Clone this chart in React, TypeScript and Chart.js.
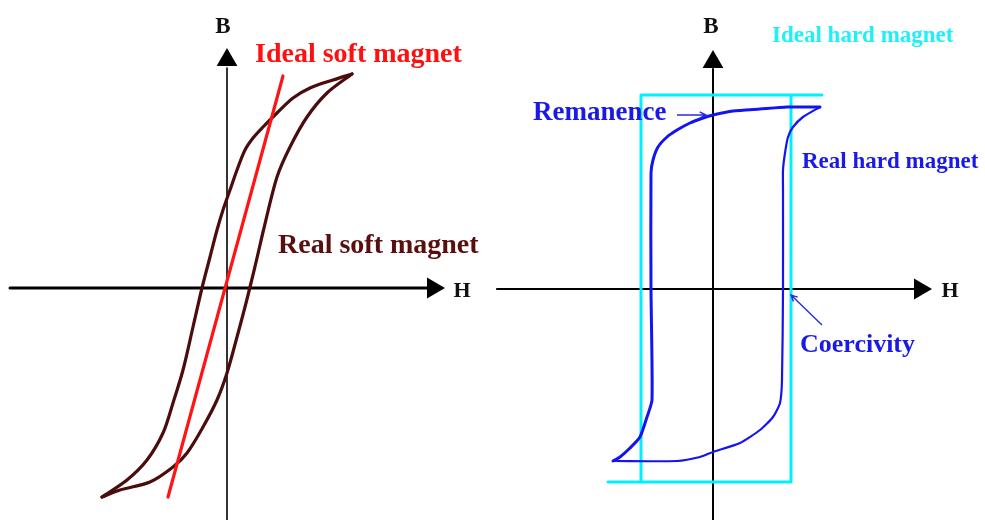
import React, { useEffect, useRef } from "react";
import { Chart, registerables } from "chart.js";

Chart.register(...registerables);

// ---------- DATA (H, B in arbitrary diagram units) ----------
// Left panel: real soft magnet loop
const softDescH = [1.25, 1.06, 0.83, 0.66, 0.5, 0.36, 0.26, 0.18, 0.1, 0.03, -0.04, -0.1, -0.17, -0.25, -0.34, -0.44, -0.54, -0.64, -0.8, -1.0, -1.25];
const softDescB = [2.14, 2.08, 2.0, 1.9, 1.75, 1.61, 1.5, 1.38, 1.18, 0.98, 0.78, 0.58, 0.31, 0.0, -0.39, -0.82, -1.15, -1.45, -1.72, -1.92, -2.09];
const softAscH = [-1.25, -1.07, -0.77, -0.54, -0.4, -0.24, -0.1, 0.0, 0.1, 0.18, 0.24, 0.3, 0.37, 0.5, 0.63, 0.8, 1.0, 1.25];
const softAscB = [-2.09, -2.02, -1.94, -1.79, -1.65, -1.39, -1.12, -0.85, -0.49, -0.19, 0.05, 0.3, 0.6, 1.11, 1.41, 1.71, 1.95, 2.14];
// Left panel: ideal soft magnet (straight line)
const idealSoftH = [-0.59, 0.56];
const idealSoftB = [-2.09, 2.12];

// Right panel: real hard magnet loop
const hardDescH = [1.07, 0.74, 0.47, 0.2, 0.0, -0.1, -0.23, -0.36, -0.46, -0.55, -0.6, -0.62, -0.62, -0.61, -0.66, -0.73, -0.83, -0.93, -1.0];
const hardDescB = [1.82, 1.82, 1.8, 1.78, 1.74, 1.71, 1.66, 1.59, 1.52, 1.42, 1.29, 1.16, 0.0, -1.11, -1.28, -1.48, -1.59, -1.68, -1.72];
const hardAscH = [-1.0, -0.36, -0.13, 0.0, 0.27, 0.47, 0.6, 0.67, 0.69, 0.7, 0.7, 0.7, 0.72, 0.75, 0.8, 0.9, 1.07];
const hardAscB = [-1.72, -1.72, -1.68, -1.63, -1.54, -1.41, -1.28, -1.14, -0.91, 0.0, 0.99, 1.19, 1.36, 1.52, 1.62, 1.72, 1.82];
// Right panel: ideal hard magnet (rectangular loop)
const idealHardH = [-1.05, 0.78, 0.78, 1.09, -0.72, -0.72];
const idealHardB = [-1.93, -1.93, 1.94, 1.94, 1.94, -1.93];

// Axis extents [start, end-of-shaft, arrow-centre]
const leftHAxis = [-2.17, 2.03, 2.06];
const leftBAxis = [-2.32, 2.2, 2.28];
const rightHAxis = [-2.16, 2.05, 2.07];
const rightBAxis = [-2.31, 2.2, 2.27];

// Text labels
const leftLabels = ["B", "H", "Ideal soft magnet", "Real soft magnet"];
const rightLabels = ["B", "H", "Ideal hard magnet", "Remanence", "Real hard magnet", "Coercivity"];

// ---------- layout / style ----------
const zip = (h: number[], b: number[]) => h.map((x, i) => ({ x, y: b[i] }));

const SERIF = '"Liberation Serif", "Times New Roman", serif';
const labelLayout: any[] = [
  { panel: "L", text: leftLabels[0], h: -0.04, b: 2.55, align: "center", size: 23, color: "#111" },
  { panel: "L", text: leftLabels[1], h: 2.35, b: -0.09, align: "center", size: 22, color: "#111" },
  { panel: "L", text: leftLabels[2], h: 0.28, b: 2.26, align: "left", size: 28, color: "#ff1010" },
  { panel: "L", text: leftLabels[3], h: 0.51, b: 0.35, align: "left", size: 28, color: "#5a0f0f" },
  { panel: "R", text: rightLabels[0], h: -0.02, b: 2.56, align: "center", size: 23, color: "#111" },
  { panel: "R", text: rightLabels[1], h: 2.37, b: -0.08, align: "center", size: 22, color: "#111" },
  { panel: "R", text: rightLabels[2], h: 0.59, b: 2.47, align: "left", size: 23, color: "#1ff0f8" },
  { panel: "R", text: rightLabels[3], h: -1.8, b: 1.69, align: "left", size: 27, color: "#1a1ae8" },
  { panel: "R", text: rightLabels[4], h: 0.89, b: 1.21, align: "left", size: 23, color: "#1a1ae8" },
  { panel: "R", text: rightLabels[5], h: 0.87, b: -0.63, align: "left", size: 26, color: "#1a1ae8" },
];
// small pointer arrows (right panel): [fromH, fromB, toH, toB]
const pointers = [
  [-0.36, 1.74, -0.07, 1.74],
  [1.09, -0.36, 0.78, -0.06],
];

const diagramPlugin = {
  id: "diagramText",
  afterDatasetsDraw(chart: any) {
    const ctx = chart.ctx;
    const s = chart.scales;
    const px = (panel: string, h: number, b: number) => [
      s[panel === "L" ? "xL" : "xR"].getPixelForValue(h),
      s[panel === "L" ? "yL" : "yR"].getPixelForValue(b),
    ];
    ctx.save();
    // pointer arrows
    ctx.strokeStyle = "#2a2ae0";
    ctx.lineWidth = 1.4;
    pointers.forEach(([h1, b1, h2, b2]) => {
      const [x1, y1] = px("R", h1, b1);
      const [x2, y2] = px("R", h2, b2);
      ctx.beginPath();
      ctx.moveTo(x1, y1);
      ctx.lineTo(x2, y2);
      const ang = Math.atan2(y2 - y1, x2 - x1);
      const hl = 7;
      ctx.moveTo(x2 - hl * Math.cos(ang - 0.45), y2 - hl * Math.sin(ang - 0.45));
      ctx.lineTo(x2, y2);
      ctx.lineTo(x2 - hl * Math.cos(ang + 0.45), y2 - hl * Math.sin(ang + 0.45));
      ctx.stroke();
    });
    // labels
    ctx.textBaseline = "alphabetic";
    labelLayout.forEach((l) => {
      const [x, y] = px(l.panel, l.h, l.b);
      ctx.font = `bold ${l.size}px ${SERIF}`;
      ctx.fillStyle = l.color;
      ctx.textAlign = l.align;
      ctx.fillText(l.text, x, y);
    });
    ctx.restore();
  },
};

const lineDs = (data: any[], color: string, width: number, xAxisID: string, yAxisID: string, tension = 0) => ({
  data,
  showLine: true,
  borderColor: color,
  backgroundColor: color,
  borderWidth: width,
  pointRadius: 0,
  tension,
  fill: false,
  clip: false,
  xAxisID,
  yAxisID,
  borderCapStyle: "round",
  borderJoinStyle: "round",
});

const arrowDs = (pt: { x: number; y: number }, rot: number, xAxisID: string, yAxisID: string) => ({
  data: [pt],
  showLine: false,
  pointStyle: "triangle",
  pointRadius: 12,
  pointRotation: rot,
  pointBackgroundColor: "#000",
  pointBorderColor: "#000",
  pointBorderWidth: 0,
  clip: false,
  xAxisID,
  yAxisID,
});

export default function App() {
  const canvasRef = useRef<HTMLCanvasElement>(null);

  useEffect(() => {
    if (!canvasRef.current) return;
    const chart = new Chart(canvasRef.current, {
      type: "scatter",
      data: {
        datasets: [
          // left panel
          lineDs(zip(idealSoftH, idealSoftB), "#ff1414", 3.2, "xL", "yL"),
          lineDs(zip(softDescH, softDescB), "#4a0c0c", 3.2, "xL", "yL", 0.3),
          lineDs(zip(softAscH, softAscB), "#4a0c0c", 3.2, "xL", "yL", 0.3),
          // right panel
          lineDs(zip(hardDescH, hardDescB), "#1414f0", 3, "xR", "yR", 0.2),
          lineDs(zip(hardAscH, hardAscB), "#1414f0", 2.2, "xR", "yR", 0.2),
          lineDs(zip(idealHardH, idealHardB), "#00f0ff", 3, "xR", "yR"),
          // axes
          lineDs([{ x: leftHAxis[0], y: 0 }, { x: leftHAxis[1], y: 0 }], "#000", 3, "xL", "yL"),
          lineDs([{ x: 0, y: leftBAxis[0] }, { x: 0, y: leftBAxis[1] }], "#000", 1.6, "xL", "yL"),
          lineDs([{ x: rightHAxis[0], y: 0 }, { x: rightHAxis[1], y: 0 }], "#000", 2.2, "xR", "yR"),
          lineDs([{ x: 0, y: rightBAxis[0] }, { x: 0, y: rightBAxis[1] }], "#000", 2, "xR", "yR"),
          arrowDs({ x: leftHAxis[2], y: 0 }, 90, "xL", "yL"),
          arrowDs({ x: 0, y: leftBAxis[2] }, 0, "xL", "yL"),
          arrowDs({ x: rightHAxis[2], y: 0 }, 90, "xR", "yR"),
          arrowDs({ x: 0, y: rightBAxis[2] }, 0, "xR", "yR"),
        ] as any,
      },
      options: {
        responsive: false,
        maintainAspectRatio: false,
        animation: false,
        devicePixelRatio: 1,
        events: [],
        layout: { padding: 0, autoPadding: false },
        plugins: { legend: { display: false }, tooltip: { enabled: false } },
        scales: {
          xL: { type: "linear", display: false, min: -2.27, max: 7.58 },
          yL: { type: "linear", display: false, min: -2.32, max: 2.88 },
          xR: { type: "linear", display: false, min: -7.13, max: 2.72 },
          yR: { type: "linear", display: false, min: -2.31, max: 2.89 },
        },
      } as any,
      plugins: [diagramPlugin],
    });
    return () => chart.destroy();
  }, []);

  return (
    <div style={{ position: "fixed", left: 0, top: 0, width: 985, height: 520, background: "#fff" }}>
      <canvas ref={canvasRef} width={985} height={520} style={{ display: "block", width: 985, height: 520 }} />
    </div>
  );
}
